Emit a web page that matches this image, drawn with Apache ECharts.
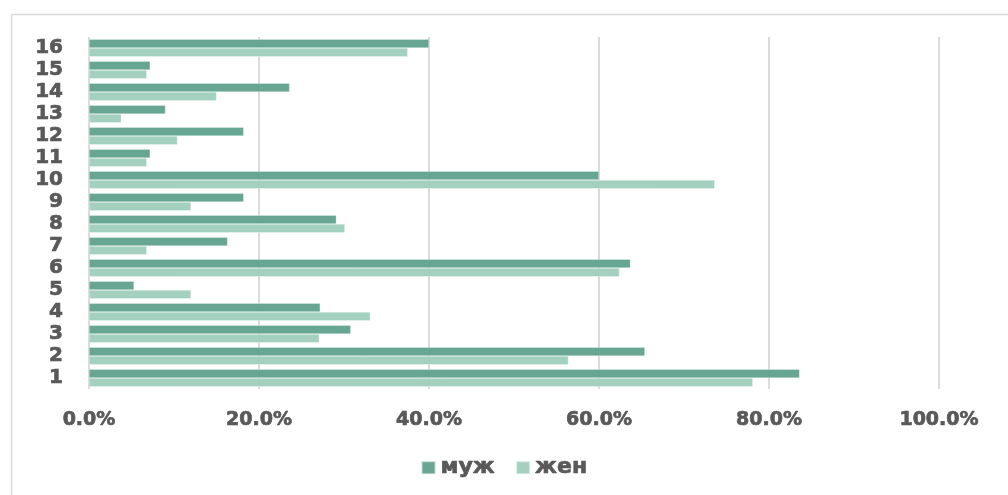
<!DOCTYPE html>
<html>
<head>
<meta charset="utf-8">
<script src="https://cdn.jsdelivr.net/npm/echarts@6/dist/echarts.min.js"></script>
<style>
  html, body { margin: 0; padding: 0; background: #ffffff; }
  #chart { width: 1008px; height: 495px; }
</style>
</head>
<body>
<div id="chart"></div>
<script>
// Question numbers, bottom to top
const categories = ['1', '2', '3', '4', '5', '6', '7', '8', '9', '10', '11', '12', '13', '14', '15', '16'];
// Share of answers, percent
const male   = [83.6, 65.4, 30.8, 27.2, 5.3, 63.7, 16.3, 29.1, 18.2, 60.0, 7.2, 18.2, 9.0, 23.6, 7.2, 40.0];
const female = [78.1, 56.4, 27.1, 33.1, 12.0, 62.4, 6.8, 30.1, 12.0, 73.6, 6.8, 10.4, 3.8, 15.0, 6.8, 37.5];
const seriesNames = ['муж', 'жен'];
const xTicks = [0, 20, 40, 60, 80, 100];

const textColor = '#595959';
const fontFamily = '"DejaVu Sans", "Liberation Sans", sans-serif';
// heavy label look: bold face plus a thin outline in the same colour
const heavyText = { color: textColor, fontFamily: fontFamily, fontWeight: 'bold', textBorderColor: textColor, textBorderWidth: 0.7 };

const chart = echarts.init(document.getElementById('chart'));
chart.setOption({
  animation: false,
  backgroundColor: '#ffffff',
  color: ['#67a692', '#a4d0c0'],
  graphic: [{
    type: 'rect',
    left: 9, top: 12,
    shape: { width: 1100, height: 600 },
    style: { fill: 'none', stroke: '#d9d9d9', lineWidth: 1.5 },
    silent: true
  }],
  grid: { left: 89, right: 69, top: 37, bottom: 106, containLabel: false },
  legend: {
    data: seriesNames,
    bottom: 11,
    left: 'center',
    itemWidth: 14,
    itemHeight: 13,
    itemGap: 20,
    icon: 'rect',
    textStyle: Object.assign({ fontSize: 22 }, heavyText)
  },
  xAxis: {
    type: 'value',
    min: xTicks[0],
    max: xTicks[xTicks.length - 1],
    interval: 20,
    axisLine: { show: false },
    axisTick: { show: false },
    splitLine: { show: true, lineStyle: { color: '#dcdcdc', width: 2 } },
    axisLabel: Object.assign({
      margin: 22,
      fontSize: 19,
      formatter: v => v.toFixed(1) + '%'
    }, heavyText)
  },
  yAxis: {
    type: 'category',
    data: categories,
    axisLine: { show: false },
    axisTick: { show: false },
    axisLabel: Object.assign({
      interval: 0,
      margin: 26,
      fontSize: 20
    }, heavyText)
  },
  series: [
    {
      name: seriesNames[0],
      type: 'bar',
      data: male,
      barGap: '0%',
      barCategoryGap: '20%',
      itemStyle: { borderColor: 'rgba(255,255,255,0.6)', borderWidth: 0.5 }
    },
    {
      name: seriesNames[1],
      type: 'bar',
      data: female,
      barGap: '0%',
      barCategoryGap: '20%',
      itemStyle: { borderColor: 'rgba(255,255,255,0.6)', borderWidth: 0.5 }
    }
  ]
});
</script>
</body>
</html>
